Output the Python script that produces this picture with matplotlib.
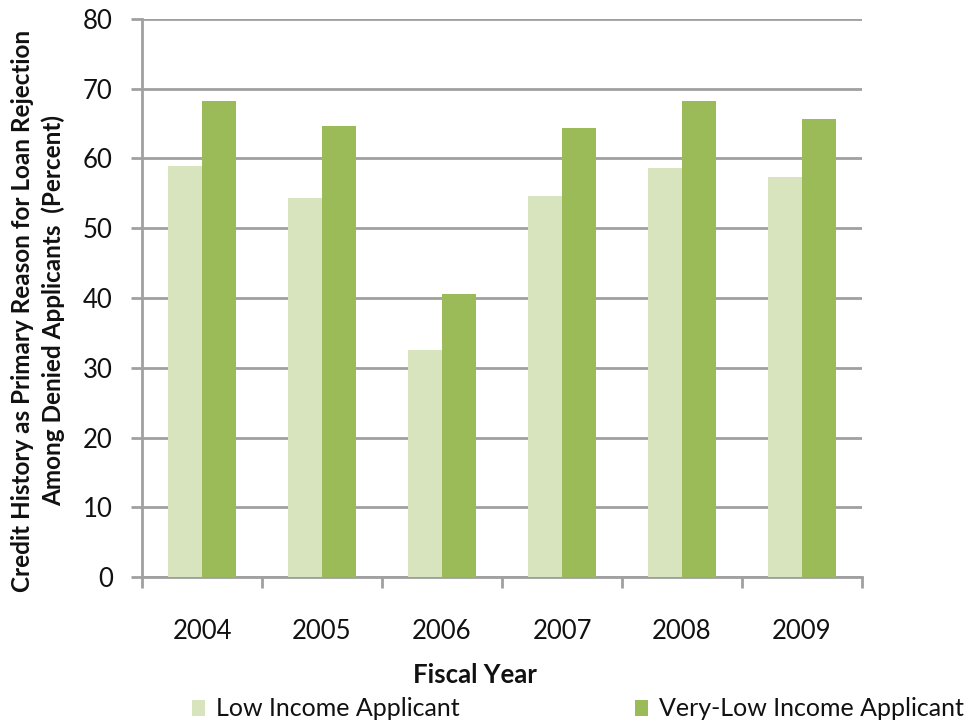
import matplotlib.pyplot as plt
import numpy as np

years = ["2004", "2005", "2006", "2007", "2008", "2009"]
low_income = [58.9, 54.4, 32.6, 54.6, 58.6, 57.4]
very_low_income = [68.3, 64.6, 40.6, 64.4, 68.3, 65.7]

light_green = "#D7E4BD"
dark_green = "#9BBB59"
axis_grey = "#A0A0A0"

plt.rcParams["font.family"] = ["Lato", "DejaVu Sans"]

W, H = 969, 721
fig = plt.figure(figsize=(W / 100, H / 100), dpi=100)
ax = fig.add_axes([142 / W, 1 - 577 / H, 720 / W, 558 / H])

x = np.arange(len(years))
w = 0.283
b1 = ax.bar(x - w / 2, low_income, width=w, color=light_green, label="Low Income Applicant", zorder=3)
b2 = ax.bar(x + w / 2, very_low_income, width=w, color=dark_green, label="Very-Low Income Applicant", zorder=3)

ax.set_xlim(-0.5, len(years) - 0.5)
ax.set_ylim(0, 80)
ax.set_yticks(range(0, 81, 10))
ax.yaxis.grid(True, color=axis_grey, linewidth=2, zorder=0)

# year labels sit between the boundary ticks
ax.set_xticks(np.arange(-0.5, len(years), 1.0))
ax.set_xticklabels([])
ax.set_xticks(x, minor=True)
ax.set_xticklabels(years, minor=True, fontsize=18.5, color="#111111")
ax.tick_params(axis="x", which="major", length=8, width=2, color=axis_grey, direction="out")
ax.tick_params(axis="x", which="minor", length=0, pad=30)
ax.tick_params(axis="y", length=8, width=2, color=axis_grey, direction="out",
               labelsize=18.5, labelcolor="#111111", pad=13)

for side in ["top", "right"]:
    ax.spines[side].set_visible(False)
for side in ["left", "bottom"]:
    ax.spines[side].set_color(axis_grey)
    ax.spines[side].set_linewidth(2)

fig.text(475 / W, 1 - 675 / H, "Fiscal Year", fontsize=18.5, fontweight="bold",
         ha="center", va="center", color="#111111")
fig.text(38 / W, 1 - 311 / H,
         "Credit History as Primary Reason for Loan Rejection\nAmong Denied Applicants  (Percent)",
         rotation=90, fontsize=17.5, fontweight="bold", ha="center", va="center",
         multialignment="center", linespacing=1.35, color="#111111")

legend_opts = dict(loc="center left", frameon=False, fontsize=18, handlelength=0.5,
                   handleheight=0.6, handletextpad=0.45, borderpad=0, borderaxespad=0,
                   labelcolor="#111111")
fig.legend(handles=[b1], bbox_to_anchor=(192 / W, 1 - 709 / H), **legend_opts)
fig.legend(handles=[b2], bbox_to_anchor=(635 / W, 1 - 709 / H), **legend_opts)

fig.savefig("out.png", dpi=100)
